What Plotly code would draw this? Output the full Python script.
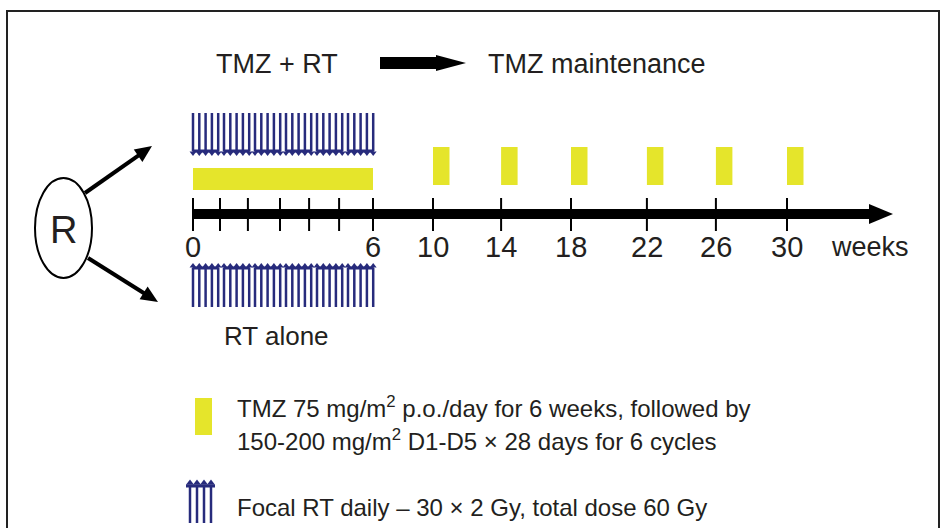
import math
import plotly.graph_objects as go

# schematic timeline (positions along the drawn axis, in "slot" units)
axis_labels = ["0", "6", "10", "14", "18", "22", "26", "30"]
axis_pos = [0, 6, 8.0, 10.27, 12.6, 15.13, 17.43, 19.8]
week_ticks = [0, 0.9, 1.83, 2.9, 3.87, 4.87, 6]

rt_weeks = [0, 1, 2, 3, 4, 5]
rt_days = [0, 1, 2, 3, 4]          # 5 fractions a week -> 30 x 2 Gy
tmz_daily = (axis_pos[0], axis_pos[1])
tmz_cycles = axis_pos[2:]
cycle_width = 0.55

header_left = "TMZ + RT"
header_right = "TMZ maintenance"
lower_arm = "RT alone"
legend_lines = [
    "TMZ 75 mg/m<sup>2</sup> p.o./day for 6 weeks, followed by",
    "150-200 mg/m<sup>2</sup> D1-D5 × 28 days for 6 cycles",
    "Focal RT daily – 30 × 2 Gy, total dose 60 Gy",
]

YELLOW = "#e5e52b"
NAVY = "#272b7c"
INK = "#231f20"
FONT = "Liberation Sans, Arial, sans-serif"

X0, U = 193, 30.0


def ux(p):
    return (p - X0) / U


fig = go.Figure()


def arrow(x1, y1, x2, y2, width=4, head=17, half=7.5):
    # thick line with a filled head, computed in pixels
    L = math.hypot(x2 - x1, y2 - y1)
    dx, dy = (x2 - x1) / L, (y2 - y1) / L
    bx, by = x2 - head * dx, y2 - head * dy
    fig.add_trace(go.Scatter(x=[ux(x1), ux(bx + 2 * dx)], y=[y1, by + 2 * dy], mode="lines",
                             line=dict(color="black", width=width), hoverinfo="skip"))
    fig.add_shape(type="path",
                  path=(f"M {ux(x2)} {y2} L {ux(bx - half * dy)} {by + half * dx} "
                        f"L {ux(bx + half * dy)} {by - half * dx} Z"),
                  fillcolor="black", line=dict(width=0))


# main time axis
fig.add_trace(go.Scatter(x=[0, ux(872)], y=[214, 214], mode="lines",
                         line=dict(color="black", width=10), hoverinfo="skip"))
fig.add_shape(type="path", path=f"M {ux(869)} 204 L {ux(893)} 214 L {ux(869)} 224 Z",
              fillcolor="black", line=dict(width=0))

tx, ty = [], []
for p in week_ticks + axis_pos[2:]:
    tx += [p, p, None]
    ty += [198, 231, None]
fig.add_trace(go.Scatter(x=tx, y=ty, mode="lines", line=dict(color="black", width=2),
                         hoverinfo="skip"))

for lab, p in zip(axis_labels, axis_pos):
    fig.add_annotation(x=p, y=247, text=lab, showarrow=False,
                       font=dict(family=FONT, size=29, color=INK))
fig.add_annotation(x=ux(870), y=247, text="weeks", showarrow=False,
                   font=dict(family=FONT, size=27, color=INK))

# TMZ bars
fig.add_shape(type="rect", x0=tmz_daily[0], x1=tmz_daily[1], y0=168, y1=190,
              fillcolor=YELLOW, line=dict(width=0))
for c in tmz_cycles:
    fig.add_shape(type="rect", x0=c, x1=c + cycle_width, y0=147, y1=185,
                  fillcolor=YELLOW, line=dict(width=0))


# RT fractions (top arm points down, bottom arm points up)
def rt_row(y_top, y_bot, bar_y, head_y, symbol):
    sx, sy, bx, by, hx, hy = [], [], [], [], [], []
    for w in rt_weeks:
        xs = [(w * 31 + d * 6.3) / U for d in rt_days]
        for x in xs:
            sx += [x, x, None]
            sy += [y_top, y_bot, None]
            hx.append(x)
            hy.append(head_y)
        bx += [xs[0] - 0.02, xs[-1] + 0.02, None]
        by += [bar_y, bar_y, None]
    fig.add_trace(go.Scatter(x=sx, y=sy, mode="lines", line=dict(color=NAVY, width=2.5),
                             hoverinfo="skip"))
    fig.add_trace(go.Scatter(x=bx, y=by, mode="lines", line=dict(color=NAVY, width=3),
                             hoverinfo="skip"))
    fig.add_trace(go.Scatter(x=hx, y=hy, mode="markers", hoverinfo="skip",
                             marker=dict(symbol=symbol, size=6, color=NAVY)))


rt_row(113, 151, 151, 153, "triangle-down")
rt_row(268, 307, 268, 266, "triangle-up")

# header
fig.add_annotation(x=ux(277), y=64, text=header_left, showarrow=False,
                   font=dict(family=FONT, size=27, color=INK))
fig.add_annotation(x=ux(486), y=64, text=header_right, showarrow=False, xanchor="left",
                   font=dict(family=FONT, size=27, color=INK))
fig.add_shape(type="path",
              path=(f"M {ux(380)} 57 L {ux(436)} 57 L {ux(436)} 55 L {ux(466)} 63 "
                    f"L {ux(436)} 71 L {ux(436)} 69 L {ux(380)} 69 Z"),
              fillcolor="black", line=dict(width=0))
fig.add_annotation(x=ux(276), y=336, text=lower_arm, showarrow=False,
                   font=dict(family=FONT, size=26, color=INK))

# randomisation
fig.add_shape(type="circle", x0=ux(35), x1=ux(92), y0=178, y1=278,
              line=dict(color="black", width=2), fillcolor="white")
fig.add_annotation(x=ux(63), y=230, text="R", showarrow=False,
                   font=dict(family=FONT, size=38, color=INK))
arrow(85, 193, 152, 146)
arrow(88, 258, 158, 302)

# legend
fig.add_shape(type="rect", x0=ux(195), x1=ux(212), y0=398, y1=435,
              fillcolor=YELLOW, line=dict(width=0))
for x, y, txt in [(235, 407, legend_lines[0]), (235, 440, legend_lines[1]),
                  (235, 507, legend_lines[2])]:
    fig.add_annotation(x=ux(x), y=y, text=txt, showarrow=False, xanchor="left",
                       font=dict(family=FONT, size=24, color=INK))
lx = [ux(p) for p in (190, 197, 204, 211)]
sx, sy = [], []
for x in lx:
    sx += [x, x, None]
    sy += [486, 523, None]
fig.add_trace(go.Scatter(x=sx, y=sy, mode="lines", line=dict(color=NAVY, width=2.5),
                         hoverinfo="skip"))
fig.add_trace(go.Scatter(x=[ux(186), ux(215)], y=[486, 486], mode="lines",
                         line=dict(color=NAVY, width=3), hoverinfo="skip"))
fig.add_trace(go.Scatter(x=lx, y=[483] * 4, mode="markers", hoverinfo="skip",
                         marker=dict(symbol="triangle-up", size=7, color=NAVY)))

# frame
fig.add_shape(type="rect", xref="paper", yref="paper", x0=7 / 948, x1=939 / 948,
              y0=-0.1, y1=1 - 11 / 528, line=dict(color="#222", width=2))

fig.update_layout(
    width=948, height=528,
    margin=dict(l=0, r=0, t=0, b=0),
    paper_bgcolor="white", plot_bgcolor="white",
    showlegend=False,
    xaxis=dict(visible=False, range=[ux(0), ux(948)], fixedrange=True),
    yaxis=dict(visible=False, range=[528, 0], fixedrange=True),
)

fig.write_html("out.html", config={"displayModeBar": False},
               post_script="document.body.style.margin='0';document.body.style.overflow='hidden';")
